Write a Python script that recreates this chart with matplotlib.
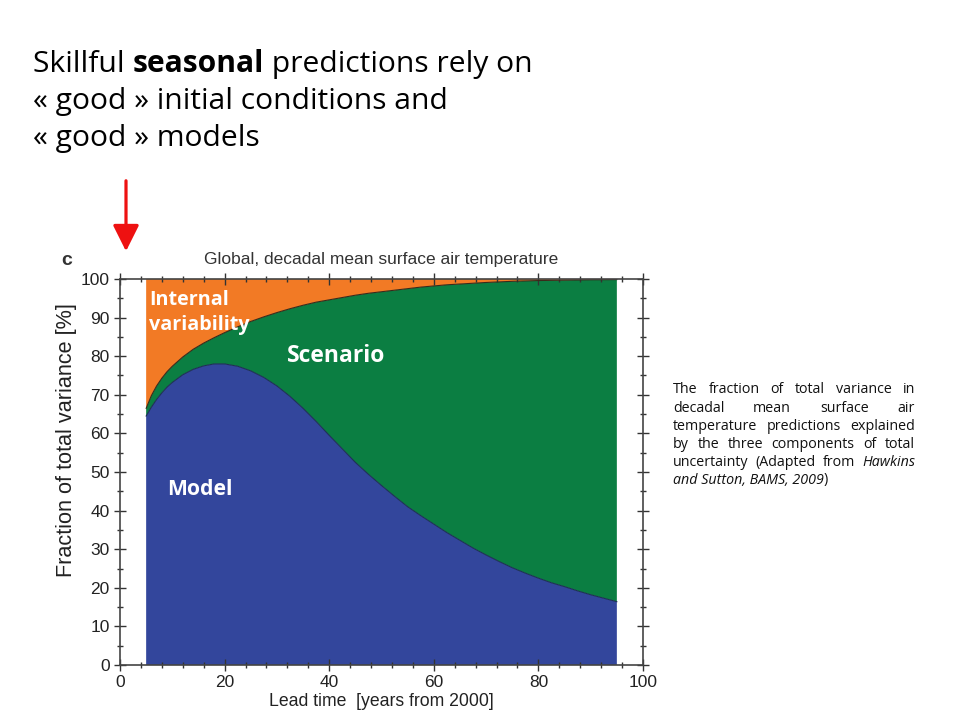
import matplotlib
matplotlib.use("Agg")
import matplotlib.pyplot as plt
import numpy as np
from matplotlib.ticker import MultipleLocator

# ---------------- data ----------------
lead_years = [5, 6, 7, 8, 9, 10, 12, 14, 16, 18, 20, 22.5, 25, 27.5, 30, 32.5,
              35, 37.5, 40, 42.5, 45, 47.5, 50, 52.5, 55, 57.5, 60, 62.5, 65,
              67.5, 70, 72.5, 75, 77.5, 80, 82.5, 85, 87.5, 90, 92.5, 95]
model_frac = [64.5, 66.8, 68.8, 70.5, 72, 73.2, 75.2, 76.6, 77.5, 78, 78, 77.4,
              76.2, 74.5, 72.3, 69.6, 66.5, 63.1, 59.5, 56, 52.5, 49.4, 46.5,
              43.7, 41, 38.7, 36.5, 34.3, 32.3, 30.3, 28.5, 26.8, 25.2, 23.8,
              22.5, 21.3, 20.3, 19.2, 18.2, 17.3, 16.4]
scenario_frac = [2.0, 3.0, 3.5, 3.8, 4.0, 4.2, 4.6, 5.2, 5.9, 6.8, 8.1, 10.2,
                 12.8, 15.7, 19.0, 22.7, 26.7, 30.9, 35.1, 39.2, 43.3, 46.9,
                 50.2, 53.4, 56.5, 59.2, 61.7, 64.2, 66.4, 68.6, 70.6, 72.45,
                 74.2, 75.7, 77.1, 78.35, 79.4, 80.55, 81.6, 82.52, 83.45]
internal_frac = [33.5, 30.2, 27.7, 25.7, 24, 22.6, 20.2, 18.2, 16.6, 15.2, 13.9,
                 12.4, 11, 9.8, 8.7, 7.7, 6.8, 6, 5.4, 4.8, 4.2, 3.7, 3.3, 2.9,
                 2.5, 2.1, 1.8, 1.5, 1.3, 1.1, 0.9, 0.75, 0.6, 0.5, 0.4, 0.35,
                 0.3, 0.25, 0.2, 0.18, 0.15]

x_ticks = [0, 20, 40, 60, 80, 100]
y_ticks = [0, 10, 20, 30, 40, 50, 60, 70, 80, 90, 100]

title_lines = [
    [("Skillful ", "normal"), ("seasonal", "bold"), (" predictions rely on", "normal")],
    [("« good » initial conditions and", "normal")],
    [("« good » models", "normal")],
]
caption_lines = [
    [("The", "normal"), ("fraction", "normal"), ("of", "normal"), ("total", "normal"),
     ("variance", "normal"), ("in", "normal")],
    [("decadal", "normal"), ("mean", "normal"), ("surface", "normal"), ("air", "normal")],
    [("temperature", "normal"), ("predictions", "normal"), ("explained", "normal")],
    [("by", "normal"), ("the", "normal"), ("three", "normal"), ("components", "normal"),
     ("of", "normal"), ("total", "normal")],
    [("uncertainty", "normal"), ("(Adapted", "normal"), ("from", "normal"), ("Hawkins", "italic")],
]
caption_last = [("and Sutton, BAMS, 2009", "italic"), (")", "normal")]

# ---------------- figure ----------------
W, H = 960, 720
fig = plt.figure(figsize=(W / 100, H / 100), dpi=100)
fig.patch.set_facecolor("white")

def fx(px):
    return px / W

def fy(py):
    return 1 - py / H

ax = fig.add_axes([fx(120), fy(665), fx(643) - fx(120), fy(279) - fy(665)])
x = np.array(lead_years)
m = np.array(model_frac)
s = np.array(scenario_frac)
i = np.array(internal_frac)
ax.stackplot(x, m, s, i, colors=["#33469c", "#0b7e42", "#f27a25"], linewidth=0)
ax.plot(x, m, color="#1d2f55", lw=0.8)
ax.plot(x, m + s, color="#3a2a1a", lw=0.8)
ax.set_xlim(0, 100)
ax.set_ylim(0, 100)
ax.set_xticks(x_ticks)
ax.set_yticks(y_ticks)
ax.xaxis.set_minor_locator(MultipleLocator(4))
ax.yaxis.set_minor_locator(MultipleLocator(5))
axfont = "Liberation Sans"
ax.tick_params(which="both", direction="inout", top=True, right=True,
               labelsize=12.5, colors="#333333", labelcolor="#222222", width=1)
ax.tick_params(which="major", length=8)
ax.tick_params(which="minor", length=4)
for lab in ax.get_xticklabels() + ax.get_yticklabels():
    lab.set_fontfamily(axfont)
for sp in ax.spines.values():
    sp.set_color("#444444")
    sp.set_linewidth(1.2)
ax.set_xlabel("Lead time  [years from 2000]", fontsize=12.7, family=axfont,
              color="#222222", labelpad=2)
fig.text(fx(67), fy(440), "Fraction of total variance [%]", fontsize=15.6,
         family=axfont, color="#222222", rotation=90, ha="center", va="center")
ax.set_title("Global, decadal mean surface air temperature", fontsize=12.5,
             family=axfont, color="#333333", pad=11)
fig.text(fx(67), fy(260), "c", fontsize=14, family=axfont, weight="bold",
         color="#333333", ha="center", va="center")

# region labels
lab_font = "Open Sans"
ax.text(5.5, 94.5, "Internal", color="white", fontsize=14.2, weight="bold",
        family=lab_font, ha="left", va="center")
ax.text(5.5, 88.2, "variability", color="white", fontsize=14.2, weight="bold",
        family=lab_font, ha="left", va="center")
ax.text(32, 80, "Scenario", color="white", fontsize=16.5, weight="bold",
        family=lab_font, ha="left", va="center")
ax.text(9, 45.5, "Model", color="white", fontsize=15.2, weight="bold",
        family=lab_font, ha="left", va="center")

# red arrow
fig.patches.append(matplotlib.patches.FancyArrowPatch(
    (fx(126), fy(178)), (fx(126), fy(254)), transform=fig.transFigure,
    arrowstyle="-|>,head_length=10,head_width=5", color="#ee1111", lw=2.3,
    mutation_scale=1.6))

renderer = fig.canvas.get_renderer()

def width_of(txt, **kw):
    t = fig.text(0, 0, txt, **kw)
    w = t.get_window_extent(renderer).width
    t.remove()
    return w

# title lines with mixed weights
tfont = "Open Sans"
tsize = 21.6
for k, parts in enumerate(title_lines):
    xp = 33
    yp = 72 + k * 37.2
    for txt, wt in parts:
        kw = dict(fontsize=tsize, family=tfont, weight=wt, color="black")
        fig.text(fx(xp), fy(yp), txt, ha="left", va="baseline", **kw)
        xp += width_of(txt, **kw)

# justified caption
cfont = "Open Sans"
csize = 10.3
left, right = 673, 915
for k, words in enumerate(caption_lines):
    yp = 393.5 + k * 18
    kws = [dict(fontsize=csize, family=cfont, style=st, color="#111111")
           for _, st in words]
    widths = [width_of(w, **kw) for (w, _), kw in zip(words, kws)]
    gap = (right - left - sum(widths)) / (len(words) - 1)
    xp = left
    for (w, _), kw, wd in zip(words, kws, widths):
        fig.text(fx(xp), fy(yp), w, ha="left", va="baseline", **kw)
        xp += wd + gap
yp = 393.5 + len(caption_lines) * 18
xp = left
for txt, st in caption_last:
    kw = dict(fontsize=csize, family=cfont, style=st, color="#111111")
    fig.text(fx(xp), fy(yp), txt, ha="left", va="baseline", **kw)
    xp += width_of(txt, **kw)

fig.savefig("out.png", dpi=100, facecolor="white")
